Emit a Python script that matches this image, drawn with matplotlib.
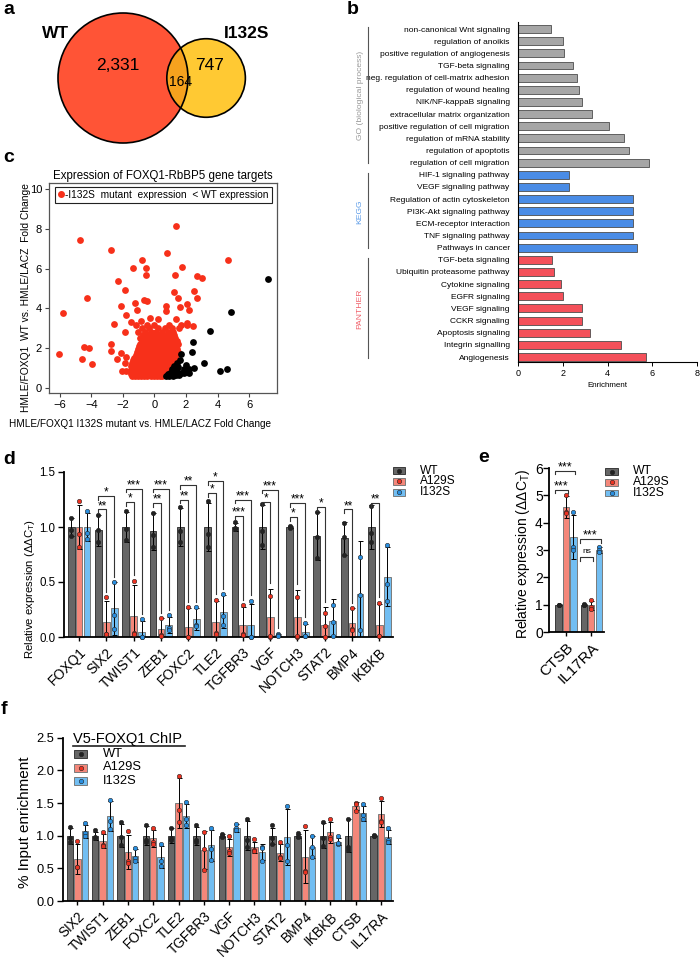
import numpy as np
import matplotlib.pyplot as plt
from matplotlib.patches import Circle, Rectangle
from matplotlib.lines import Line2D
from matplotlib.transforms import blended_transform_factory

plt.rcParams['font.family'] = ['Liberation Sans', 'DejaVu Sans']
plt.rcParams['mathtext.fontset'] = 'custom'
plt.rcParams['mathtext.rm'] = 'Liberation Sans'
plt.rcParams['mathtext.it'] = 'Liberation Sans'

# ---------------- data ----------------
# a: venn
wt_only, shared, mut_only = 2331, 164, 747

# b: enrichment
b_terms = ["non-canonical Wnt signaling", "regulation of anoikis",
           "positive regulation of angiogenesis", "TGF-beta signaling",
           "neg. regulation of cell-matrix adhesion", "regulation of wound healing",
           "NIK/NF-kappaB signaling", "extracellular matrix organization",
           "positive regulation of cell migration", "regulation of mRNA stability",
           "regulation of apoptotis", "regulation of cell migration",
           "HIF-1 signaling pathway", "VEGF signaling pathway",
           "Regulation of actin cytoskeleton", "PI3K-Akt signaling pathway",
           "ECM-receptor interaction", "TNF signaling pathway", "Pathways in cancer",
           "TGF-beta signaling", "Ubiquitin proteasome pathway", "Cytokine signaling",
           "EGFR signaling", "VEGF signaling", "CCKR signaling", "Apoptosis signaling",
           "Integrin signalling", "Angiogenesis"]
b_values = [1.49, 2.02, 2.05, 2.47, 2.65, 2.71, 2.84, 3.32, 4.05, 4.72, 4.95, 5.87,
            2.26, 2.30, 5.13, 5.13, 5.13, 5.13, 5.34,
            1.50, 1.63, 1.90, 2.00, 2.87, 2.87, 3.20, 4.60, 5.71]
b_sources = ["GO (biological process)", "KEGG", "PANTHER"]
b_counts = [12, 7, 9]

# c: scatter (x = I132S fold change, y = WT fold change)
c_red_rows = [
    (0.58, [-1.45, -1.25, -1.05, -0.85, -0.65, -0.45, -0.25, -0.05, 0.15, 0.35, 0.5]),
    (0.70, [-1.5, -1.3, -1.1, -0.9, -0.7, -0.5, -0.3, -0.1, 0.1, 0.3, 0.55]),
    (0.83, [-1.55, -1.35, -1.15, -0.95, -0.75, -0.55, -0.35, -0.15, 0.05, 0.25, 0.45, 0.7]),
    (0.97, [-1.45, -1.25, -1.05, -0.85, -0.65, -0.45, -0.25, -0.05, 0.15, 0.35, 0.55, 0.8]),
    (1.10, [-1.5, -1.3, -1.1, -0.9, -0.7, -0.5, -0.3, -0.1, 0.1, 0.3, 0.5, 0.7, 0.95]),
    (1.24, [-1.4, -1.2, -1.0, -0.8, -0.6, -0.4, -0.2, 0.0, 0.2, 0.4, 0.6, 0.85, 1.1]),
    (1.38, [-1.35, -1.15, -0.95, -0.75, -0.55, -0.35, -0.15, 0.05, 0.25, 0.45, 0.65, 0.9, 1.2]),
    (1.52, [-1.3, -1.1, -0.9, -0.7, -0.5, -0.3, -0.1, 0.1, 0.3, 0.5, 0.75, 1.0, 1.3]),
    (1.66, [-1.2, -1.0, -0.8, -0.6, -0.4, -0.2, 0.0, 0.2, 0.4, 0.6, 0.85, 1.1, 1.35]),
    (1.80, [-1.1, -0.9, -0.7, -0.5, -0.3, -0.1, 0.1, 0.3, 0.5, 0.75, 1.0, 1.25, 1.5]),
    (1.94, [-1.05, -0.85, -0.65, -0.45, -0.25, -0.05, 0.15, 0.35, 0.6, 0.85, 1.1, 1.4]),
    (2.08, [-1.0, -0.75, -0.55, -0.35, -0.15, 0.05, 0.25, 0.5, 0.75, 1.0, 1.3]),
    (2.22, [-0.9, -0.65, -0.45, -0.25, -0.05, 0.15, 0.4, 0.65, 0.9, 1.2, 1.5]),
    (2.36, [-0.8, -0.55, -0.3, -0.1, 0.1, 0.35, 0.6, 0.9, 1.15, 1.45]),
    (2.50, [-0.95, -0.65, -0.4, -0.15, 0.1, 0.4, 0.7, 1.0, 1.3]),
    (2.65, [-0.75, -0.45, -0.15, 0.2, 0.55, 0.9, 1.25]),
    (2.82, [-1.05, -0.6, -0.25, 0.1, 0.45, 0.85, 1.2]),
    (3.00, [-0.8, -0.35, 0.25, 0.65, 1.1, 1.55]),
    (3.18, [-1.2, -0.5, 0.0, 0.9, 1.7, 2.05]),
]
c_red_out_x = [-6.03, -5.78, -4.71, -4.29, -4.44, -4.18, -4.61, -3.99, -2.74, -2.33, -2.76,
               -2.77, -2.57, -2.38, -2.12, -1.89, -1.80, -2.10, -1.89, -2.06, -1.81, -1.86,
               -1.82, -1.36, -0.79, -0.51, -0.51, -1.21, -1.11, -0.64, -0.47, -1.52, -0.88,
               -0.30, 0.21, 0.81, 1.34, 1.27, 1.74, 1.23, 1.51, 0.76, 1.59, 0.72, 1.37, 2.08,
               2.19, 2.08, 2.46, 2.50, 2.67, 2.72, 2.99, 4.69, -3.7]
c_red_out_y = [1.70, 3.75, 7.44, 4.50, 2.03, 1.99, 1.46, 1.21, 6.94, 5.38, 2.20,
               1.86, 3.21, 1.44, 4.12, 4.92, 3.66, 1.73, 2.82, 0.86, 0.86, 1.23,
               1.57, 6.02, 6.44, 6.02, 5.68, 4.25, 3.92, 4.42, 4.36, 3.30, 3.35,
               3.52, 3.47, 6.77, 8.17, 5.68, 6.10, 4.84, 4.50, 4.12, 4.09, 3.89, 3.47, 4.20,
               3.92, 3.25, 3.13, 4.85, 4.50, 5.65, 5.53, 6.42, 10.45]
c_black_x = [0.75, 0.95, 1.15, 1.35, 1.55, 1.0, 1.2, 1.45, 1.7, 1.1, 1.3, 1.25, 1.5, 1.45,
             1.6, 1.66, 2.02, 2.08, 2.2, 1.85, 2.53, 3.14, 4.14, 4.57, 2.36, 2.44, 3.5,
             4.84, 7.18, 1.9, 2.2, 0.85, 1.05]
c_black_y = [0.58, 0.58, 0.6, 0.62, 0.65, 0.75, 0.78, 0.8, 0.72, 0.92, 0.95, 1.1, 1.05, 1.25,
             1.4, 1.7, 1.13, 0.8, 0.75, 0.75, 1.0, 1.26, 0.83, 0.95, 1.79, 2.3, 2.84,
             3.79, 5.48, 0.95, 0.95, 0.68, 0.66]

series = ["WT", "A129S", "I132S"]

# d: qPCR
d_genes = ["FOXQ1", "SIX2", "TWIST1", "ZEB1", "FOXC2", "TLE2", "TGFBR3", "VGF",
           "NOTCH3", "STAT2", "BMP4", "IKBKB"]
d_wt_mean = [1.0, 0.97, 1.0, 0.96, 1.0, 1.0, 1.0, 1.0, 1.0, 0.92, 0.90, 1.0]
d_wt_err = [0.08, 0.14, 0.14, 0.17, 0.17, 0.22, 0.04, 0.2, 0.01, 0.22, 0.15, 0.2]
d_wt_dots = [[1.08, 0.97, 0.92], [1.11, 0.97, 0.86], [1.15, 0.98, 0.88], [1.13, 0.93, 0.82],
             [1.18, 0.96, 0.86], [1.24, 0.94, 0.82], [1.05, 0.99, 0.98], [1.21, 0.96, 0.84],
             [1.01, 1.0, 0.99], [1.14, 0.91, 0.72], [1.04, 0.91, 0.75], [1.19, 0.95, 0.86]]
d_a129s_mean = [1.0, 0.14, 0.19, 0.07, 0.09, 0.14, 0.11, 0.18, 0.18, 0.11, 0.13, 0.11]
d_a129s_err = [0.2, 0.19, 0.28, 0.1, 0.17, 0.19, 0.16, 0.26, 0.25, 0.16, 0.13, 0.19]
d_a129s_dots = [[1.24, 0.94, 0.82], [0.36, 0.03, 0.03], [0.51, 0.04, 0.03], [0.17, 0.02, 0.01],
                [0.27, 0.0, 0.0], [0.34, 0.04, 0.03], [0.29, 0.03, 0.02], [0.37, 0.0, 0.01],
                [0.36, 0.0, 0.01], [0.22, 0.0, 0.1], [0.26, 0.07, 0.06], [0.31, 0.01, 0.01]]
d_i132s_mean = [1.0, 0.26, 0.05, 0.11, 0.16, 0.23, 0.11, 0.02, 0.05, 0.15, 0.39, 0.55]
d_i132s_err = [0.13, 0.24, 0.1, 0.07, 0.1, 0.15, 0.19, 0.01, 0.07, 0.2, 0.48, 0.27]
d_i132s_dots = [[1.15, 0.95, 0.89], [0.5, 0.2, 0.07], [0.16, 0.0, 0.0], [0.2, 0.08, 0.06],
                [0.27, 0.11, 0.1], [0.39, 0.19, 0.11], [0.33, 0.0, 0.0], [0.03, 0.02, 0.01],
                [0.13, 0.01, 0.01], [0.29, 0.01, 0.14], [0.73, 0.06, 0.38], [0.84, 0.48, 0.33]]
# (gene, compared series, bracket height, label)
d_sig = [(1, 1, 1.16, "**"), (1, 2, 1.28, "*"), (2, 1, 1.23, "*"), (2, 2, 1.35, "***"),
         (3, 1, 1.22, "**"), (3, 2, 1.35, "***"), (4, 1, 1.25, "**"), (4, 2, 1.38, "**"),
         (5, 1, 1.31, "*"), (5, 2, 1.42, "*"), (6, 1, 1.10, "***"), (6, 2, 1.25, "***"),
         (7, 1, 1.23, "*"), (7, 2, 1.34, "***"), (8, 1, 1.09, "*"), (8, 2, 1.22, "***"),
         (9, 1, 1.18, "*"), (10, 1, 1.16, "**"), (11, 1, 1.22, "**")]

# e
e_genes = ["CTSB", "IL17RA"]
e_wt_mean = [1.0, 1.0]
e_wt_err = [0.02, 0.02]
e_wt_dots = [[1.0, 1.0, 0.99], [1.01, 1.0, 0.98]]
e_a129s_mean = [4.57, 0.97]
e_a129s_err = [0.4, 0.17]
e_a129s_dots = [[5.0, 4.38, 4.35], [1.17, 0.92, 0.83]]
e_i132s_mean = [3.48, 3.0]
e_i132s_err = [0.8, 0.1]
e_i132s_dots = [[4.38, 3.1, 3.0], [3.12, 3.0, 2.93]]
e_sig = [(0, 1, 5.2, "***"), (0, 2, 5.9, "***"), (1, 1, 2.73, "ns"), (1, 2, 3.4, "***")]

# f: ChIP
f_genes = ["SIX2", "TWIST1", "ZEB1", "FOXC2", "TLE2", "TGFBR3", "VGF", "NOTCH3",
           "STAT2", "BMP4", "IKBKB", "CTSB", "IL17RA"]
f_wt_mean = [1.0, 1.0, 1.0, 1.0, 1.0, 1.0, 1.0, 1.0, 1.0, 1.0, 1.0, 1.0, 1.0]
f_wt_err = [0.12, 0.06, 0.18, 0.15, 0.11, 0.14, 0.02, 0.22, 0.12, 0.03, 0.19, 0.25, 0.01]
f_wt_dots = [[1.13, 0.96, 0.91], [1.09, 0.98, 0.96], [1.21, 0.98, 0.85], [1.17, 0.93, 0.9],
             [1.12, 0.97, 0.93], [1.16, 0.93, 0.91], [1.02, 0.99, 0.98], [1.25, 0.93, 0.82],
             [1.16, 0.97, 0.88], [1.04, 0.99, 0.98], [1.21, 0.96, 0.84], [1.25, 0.83, 0.78],
             [1.01, 1.0, 0.99]]
f_a129s_mean = [0.65, 0.92, 0.75, 0.96, 1.5, 0.78, 0.82, 0.82, 0.74, 0.68, 1.05, 1.46, 1.33]
f_a129s_err = [0.23, 0.11, 0.26, 0.13, 0.38, 0.29, 0.13, 0.09, 0.13, 0.41, 0.16, 0.06, 0.2]
f_a129s_dots = [[0.92, 0.52, 0.52], [1.06, 0.86, 0.84], [1.07, 0.61, 0.58], [1.11, 0.9, 0.87],
                [1.91, 1.39, 1.21], [1.06, 0.79, 0.48], [0.99, 0.76, 0.74], [0.95, 0.78, 0.77],
                [0.91, 0.68, 0.66], [1.15, 0.46, 0.44], [1.25, 0.98, 0.95], [1.5, 1.49, 1.38],
                [1.57, 1.22, 1.21]]
f_i132s_mean = [1.07, 1.3, 0.69, 0.67, 1.3, 0.85, 1.12, 0.75, 0.98, 0.83, 0.91, 1.34, 0.98]
f_i132s_err = [0.1, 0.23, 0.1, 0.17, 0.19, 0.24, 0.06, 0.12, 0.43, 0.17, 0.06, 0.12, 0.11]
f_i132s_dots = [[1.19, 1.04, 0.99], [1.55, 1.23, 1.1], [0.81, 0.66, 0.61], [0.87, 0.62, 0.53],
                [1.51, 1.25, 1.16], [1.12, 0.79, 0.63], [1.18, 1.11, 1.08], [0.83, 0.81, 0.61],
                [1.46, 0.85, 0.62], [1.0, 0.83, 0.67], [0.99, 0.88, 0.89], [1.48, 1.31, 1.25],
                [1.12, 0.94, 0.9]]

# ---------------- styles ----------------
bar_fill = ["#666666", "#F4877A", "#72BEF2"]
bar_edge = ["#3a3a3a", "#7a7a7a", "#7a7a7a"]
dot_col = ["#222222", "#EE3322", "#2A8FE0"]

W, H = 700, 957
fig = plt.figure(figsize=(7, 9.57), dpi=100)


def box(l, t, r, b):
    return fig.add_axes([l / W, 1 - b / H, (r - l) / W, (b - t) / H])


def ftext(x, y, s, **kw):
    return fig.text(x / W, 1 - y / H, s, **kw)


def grouped_bars(ax, means, errs, dots, off=0.29, width=0.25):
    n = len(means[0])
    x = np.arange(n)
    for k in range(3):
        xs = x + (k - 1) * off
        ax.bar(xs, means[k], width, color=bar_fill[k], edgecolor=bar_edge[k],
               linewidth=0.7, zorder=2)
        ax.errorbar(xs, means[k], yerr=errs[k], fmt='none', ecolor='black',
                    elinewidth=0.7, capsize=1.8, capthick=0.7, zorder=3)
        for xi, dd in zip(xs, dots[k]):
            ax.scatter([xi] * len(dd), dd, s=10, color=dot_col[k], edgecolor='#222222',
                       linewidth=0.4, zorder=4, clip_on=False)
    return x


def style_bar_axes(ax, labels, fs_tick, fs_lab, ypad=2):
    for s in ['top', 'right']:
        ax.spines[s].set_visible(False)
    for s in ['left', 'bottom']:
        ax.spines[s].set_linewidth(1.3)
    ax.set_xticks(np.arange(len(labels)))
    ax.set_xticklabels(labels, rotation=45, ha='right', rotation_mode='anchor',
                       fontsize=fs_lab)
    ax.tick_params(axis='x', length=3, width=1, pad=3)
    ax.tick_params(axis='y', length=4, width=1, labelsize=fs_tick, pad=ypad)


def key(x, y, dy, w, h, tx, fs):
    for k, lab in enumerate(series):
        yy = y + k * dy
        fig.add_artist(Rectangle(((x - w / 2) / W, 1 - (yy + h / 2) / H), w / W, h / H,
                                 transform=fig.transFigure, facecolor=bar_fill[k],
                                 edgecolor=bar_edge[k], linewidth=0.7))
        fig.add_artist(Line2D([x / W], [1 - yy / H], transform=fig.transFigure, marker='o',
                              ms=3.2, color=dot_col[k], mec='#222222', mew=0.4))
        ftext(tx, yy, lab, fontsize=fs, va='center')


def brackets(ax, sig, means, errs, dots, fs, off=0.29, long_right=True, leg=0.035,
             pad_l=0.0, pad_r=0.0, ns_fs=6):
    for g, k, h, lab in sig:
        x0 = g - off - pad_l
        x1 = g + (k - 1) * off + pad_r
        if long_right:
            y_end = max(means[k][g] + errs[k][g], max(dots[k][g])) + 0.05
        else:
            y_end = h - leg
        ax.plot([x0, x0, x1, x1], [h - leg, h, h, y_end], color='#333333', lw=0.8,
                clip_on=False, zorder=5)
        if lab == "ns":
            ax.annotate(lab, ((x0 + x1) / 2, h), xytext=(0, 2), textcoords='offset points',
                        ha='center', va='bottom', fontsize=ns_fs, annotation_clip=False)
        else:
            ax.annotate(lab, ((x0 + x1) / 2, h), xytext=(0, 0.3), textcoords='offset points',
                        ha='center', va='baseline', fontsize=fs, annotation_clip=False)


# ---------------- a: venn ----------------
r_wt = np.sqrt((wt_only + shared) / np.pi)
r_mut = np.sqrt((mut_only + shared) / np.pi)


def lens_area(d, r1, r2):
    a1 = r1 ** 2 * np.arccos((d * d + r1 * r1 - r2 * r2) / (2 * d * r1))
    a2 = r2 ** 2 * np.arccos((d * d + r2 * r2 - r1 * r1) / (2 * d * r2))
    a3 = 0.5 * np.sqrt((-d + r1 + r2) * (d + r1 - r2) * (d - r1 + r2) * (d + r1 + r2))
    return a1 + a2 - a3


lo, hi = r_wt - r_mut + 1e-6, r_wt + r_mut - 1e-6
for _ in range(60):
    mid = (lo + hi) / 2
    if lens_area(mid, r_wt, r_mut) > shared:
        lo = mid
    else:
        hi = mid
dist = (lo + hi) / 2

s = 65 / r_wt  # px per unit
cx, cy = 123, 78
ax_a = box(35, 0, 300, 160)
ax_a.set_xlim((35 - cx) / s, (300 - cx) / s)
ax_a.set_ylim((cy - 160) / s, cy / s)
ax_a.axis('off')
c_wt = Circle((0, 0), r_wt, facecolor='#FF5436', edgecolor='none')
c_mut = Circle((dist, 0), r_mut, facecolor='#FFC933', edgecolor='none')
ax_a.add_patch(c_wt)
ax_a.add_patch(c_mut)
c_ov = Circle((dist, 0), r_mut, facecolor='#F6A21E', edgecolor='none')
ax_a.add_patch(c_ov)
c_ov.set_clip_path(c_wt)
ax_a.add_patch(Circle((0, 0), r_wt, fill=False, edgecolor='black', lw=1.2))
ax_a.add_patch(Circle((dist, 0), r_mut, fill=False, edgecolor='black', lw=1.2))


def apos(px, py):
    return (px - cx) / s, (cy - py) / s


ax_a.text(*apos(118, 65), f"{wt_only:,}", fontsize=12.5, ha='center', va='center')
ax_a.text(*apos(210, 65), f"{mut_only:,}", fontsize=12.5, ha='center', va='center')
ax_a.text(*apos(181, 82), f"{shared:,}", fontsize=10, ha='center', va='center')
ax_a.text(*apos(56, 33), "WT", fontsize=12.5, fontweight='bold', ha='center', va='center')
ax_a.text(*apos(247, 33), "I132S", fontsize=12.5, fontweight='bold', ha='center',
          va='center')

# ---------------- b: enrichment ----------------
ax_b = box(518, 22, 697, 362)
b_cols = ["#A6A6A6", "#4A8CE6", "#F4505A"]
b_txt = ["#999999", "#5B9BE8", "#F0606A"]
yb = np.arange(len(b_terms))
colors = []
for ci, n in enumerate(b_counts):
    colors += [b_cols[ci]] * n
ax_b.barh(yb, b_values, height=0.65, color=colors, edgecolor='#4d4d4d', linewidth=0.6)
ax_b.set_ylim(len(b_terms) - 0.59, -0.58)
ax_b.set_xlim(0, 8)
ax_b.set_yticks(yb)
ax_b.set_yticklabels(b_terms, fontsize=6.0)
ax_b.set_xticks([0, 2, 4, 6, 8])
ax_b.tick_params(axis='y', length=0, pad=6)
ax_b.tick_params(axis='x', length=3, width=0.7, labelsize=6.5, pad=2)
ax_b.set_xlabel("Enrichment", fontsize=5.8, labelpad=3)
for sname in ['top', 'right']:
    ax_b.spines[sname].set_visible(False)
ax_b.spines['left'].set_linewidth(0.8)
ax_b.spines['bottom'].set_linewidth(0.8)
tr = blended_transform_factory(ax_b.transAxes, ax_b.transData)
lx = (368 - 518) / (697 - 518)
tx = (360 - 518) / (697 - 518)
start = 0
for ci, n in enumerate(b_counts):
    i0, i1 = start, start + n - 1
    ax_b.plot([lx, lx], [i0 - 0.15, i1 + 0.05], color='#555555', lw=0.8, transform=tr,
              clip_on=False)
    ax_b.text(tx, (i0 + i1) / 2, b_sources[ci], rotation=90, ha='center', va='center',
              fontsize=6.1, color=b_txt[ci], transform=tr)
    start += n

# ---------------- c: scatter ----------------
ax_c = box(49, 183, 277, 393)
red_x, red_y = [], []
for yv, xs in c_red_rows:
    red_x += xs
    red_y += [yv] * len(xs)
red_x += c_red_out_x
red_y += c_red_out_y
ax_c.scatter(red_x, red_y, s=24, color='#F7301A', linewidths=0, zorder=2)
ax_c.scatter(c_black_x, c_black_y, s=24, color='black', linewidths=0, zorder=3)
ax_c.set_xlim(-6.69, 7.77)
ax_c.set_ylim(-0.27, 10.32)
ax_c.set_xticks([-6, -4, -2, 0, 2, 4, 6])
ax_c.set_yticks([0, 2, 4, 6, 8, 10])
ax_c.tick_params(length=3, width=0.8, labelsize=8, color='#444444', pad=2)
for sp in ax_c.spines.values():
    sp.set_color('#555555')
    sp.set_linewidth(0.9)
ax_c.set_title("Expression of FOXQ1-RbBP5 gene targets", fontsize=8.3, pad=3)
leg = ax_c.legend(handles=[Line2D([], [], marker='o', ls='none', color='#F7301A', ms=4)],
                  labels=["-I132S  mutant  expression  < WT expression"],
                  loc='upper left', bbox_to_anchor=((55 - 49) / 228, (393 - 187) / 210),
                  borderaxespad=0, fancybox=False, edgecolor='#222222', framealpha=1,
                  fontsize=7.3, handlelength=0.5, handletextpad=0.2, borderpad=0.3)
leg.get_frame().set_linewidth(0.8)
ftext(26, 298, "HMLE/FOXQ1  WT vs. HMLE/LACZ  Fold Change", rotation=90, ha='center',
      va='center', fontsize=7.4)
ftext(140, 424, "HMLE/FOXQ1 I132S mutant vs. HMLE/LACZ Fold Change", ha='center',
      va='center', fontsize=7.2)

# ---------------- d ----------------
ax_d = box(64, 472, 393, 637)
d_means = [d_wt_mean, d_a129s_mean, d_i132s_mean]
d_errs = [d_wt_err, d_a129s_err, d_i132s_err]
d_dots = [d_wt_dots, d_a129s_dots, d_i132s_dots]
grouped_bars(ax_d, d_means, d_errs, d_dots)
ax_d.set_xlim(-0.55, 11.5)
ax_d.set_ylim(0, 1.5)
ax_d.set_yticks([0, 0.5, 1.0, 1.5])
ax_d.set_yticklabels(["0.0", "0.5", "1.0", "1.5"])
style_bar_axes(ax_d, d_genes, 8.3, 10)
brackets(ax_d, d_sig, d_means, d_errs, d_dots, 8.5)
ftext(30, 589, r"Relative expression ($\Delta\Delta$C$_\mathrm{T}$)", rotation=90,
      ha='center', va='center', fontsize=8.2)
key(398.7, 470.5, 10.9, 12, 7, 420, 8.6)

# ---------------- e ----------------
ax_e = box(549, 468, 604, 632)
e_means = [e_wt_mean, e_a129s_mean, e_i132s_mean]
e_errs = [e_wt_err, e_a129s_err, e_i132s_err]
e_dots = [e_wt_dots, e_a129s_dots, e_i132s_dots]
grouped_bars(ax_e, e_means, e_errs, e_dots)
ax_e.set_xlim(-0.67, 1.5)
ax_e.set_ylim(0, 6)
ax_e.set_yticks([0, 1, 2, 3, 4, 5, 6])
style_bar_axes(ax_e, e_genes, 10, 11, ypad=0.5)
brackets(ax_e, e_sig, e_means, e_errs, e_dots, 9, long_right=False, leg=0.13,
         pad_l=0.15, pad_r=0.08)
ftext(523, 554, r"Relative expression ($\Delta\Delta$C$_\mathrm{T}$)", rotation=90,
      ha='center', va='center', fontsize=10)
key(611.7, 471.5, 10.8, 13, 6.5, 633, 8.8)

# ---------------- f ----------------
ax_f = box(62.7, 737.7, 393, 901)
f_means = [f_wt_mean, f_a129s_mean, f_i132s_mean]
f_errs = [f_wt_err, f_a129s_err, f_i132s_err]
f_dots = [f_wt_dots, f_a129s_dots, f_i132s_dots]
grouped_bars(ax_f, f_means, f_errs, f_dots)
ax_f.set_xlim(-0.58, 12.48)
ax_f.set_ylim(0, 2.5)
ax_f.set_yticks([0, 0.5, 1.0, 1.5, 2.0, 2.5])
ax_f.set_yticklabels(["0.0", "0.5", "1.0", "1.5", "2.0", "2.5"])
style_bar_axes(ax_f, f_genes, 9.3, 9.8)
ftext(25, 822, "% Input enrichment", rotation=90, ha='center', va='center', fontsize=11)
ftext(73, 738.5, "V5-FOXQ1 ChIP", fontsize=10.5, va='center')
fig.add_artist(Line2D([73 / W, 185 / W], [1 - 746 / H, 1 - 746 / H],
                      transform=fig.transFigure, color='#222222', lw=1.2))
key(80.7, 754, 13.5, 13, 8, 103, 9.3)

# ---------------- panel letters ----------------
for lab, x, y in [("a", 3, 10), ("b", 347, 10), ("c", 3, 158), ("d", 3, 460),
                  ("e", 478, 457), ("f", 1, 710)]:
    ftext(x, y, lab, fontsize=14, fontweight='bold', va='center')

fig.savefig("out.png", dpi=100)
